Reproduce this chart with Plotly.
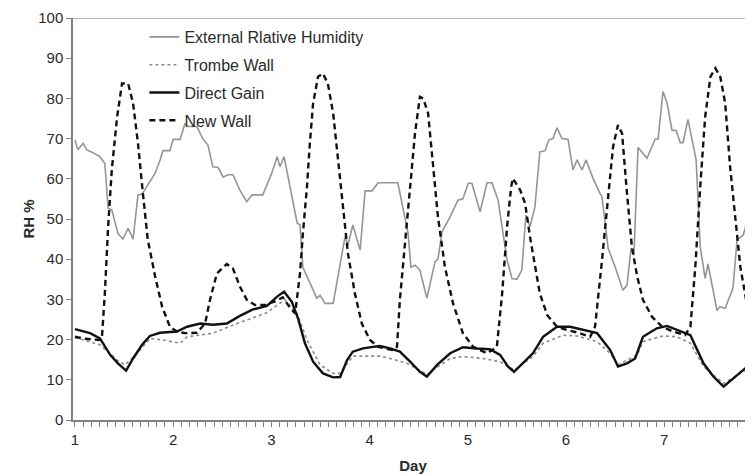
import plotly.graph_objects as go

# ---- data (hours from start of day 1, values in RH %) ----
ext_h = [0, 0.7, 2.0, 2.9, 4.4, 6.1, 7.3, 8.1, 9.0, 10.5, 11.7, 13.0, 14.2, 15.4, 16.4, 17.8, 19.6,
         20.8, 21.5, 23.2, 24.0, 25.7, 26.9, 27.6, 29.8, 31.3, 32.5, 33.7, 35.0, 36.2, 37.4, 38.6,
         40.3, 42.0, 43.3, 45.9, 48.1, 49.4, 50.1, 51.1, 54.3, 55.0, 55.7, 59.1, 59.9, 61.1, 63.1,
         66.0, 66.7, 67.9, 69.7, 70.9, 72.6, 74.1, 78.9, 81.4, 82.1, 83.1, 84.3, 86.0, 88.0, 88.7,
         89.7, 91.7, 93.6, 94.8, 96.1, 97.0, 99.0, 100.7, 101.9, 103.4, 105.6, 106.8, 108.0, 109.2,
         110.2, 111.2, 112.4, 113.6, 114.9, 115.8, 116.8, 117.8, 119.0, 120.5, 121.7, 122.7, 123.9,
         124.9, 126.6, 128.3, 128.8, 130.3, 132.0, 133.9, 134.9, 135.9, 136.6, 137.6, 139.8, 141.8,
         142.5, 143.7, 144.7, 145.9, 146.9, 147.9, 148.6, 149.8, 151.8, 152.8, 154.0, 154.7, 156.9,
         157.6, 158.9, 160.8, 161.8, 163.3, 164.5, 165.7]
ext_v = [69.7, 67.2, 68.8, 67.2, 66.5, 65.5, 63.8, 52.7, 52.3, 46.4, 45.0, 47.7, 45.0, 56.0, 56.2, 58.5, 61.4,
         64.7, 67.0, 67.0, 69.8, 69.8, 73.8, 73.0, 73.0, 69.8, 68.4, 63.0, 62.8, 60.4, 61.0, 61.0,
         57.2, 54.3, 56.0, 56.0, 61.4, 65.5, 63.0, 65.5, 49.0, 48.5, 38.0, 30.3, 31.0, 29.0, 29.0,
         45.6, 43.5, 48.5, 42.3, 57.0, 57.0, 59.0, 59.0, 46.5, 38.0, 38.5, 37.3, 30.3, 39.4, 40.0,
         46.8, 50.6, 54.7, 55.0, 58.9, 58.9, 51.8, 59.0, 59.0, 54.7, 39.8, 35.2, 35.0, 37.3,
         51.0, 48.1, 53.0, 66.7, 67.0, 69.7, 70.0, 72.7, 70.0, 69.8, 62.2, 64.7, 62.2,
         64.7, 60.1, 56.4, 55.5, 42.7, 38.1, 32.3, 33.5, 42.7, 41.0, 67.8, 65.1, 69.9,
         69.9, 81.7, 78.8, 72.1, 72.0, 69.0, 69.0, 74.8, 64.7, 43.1, 35.2, 38.8, 27.2,
         28.2, 27.8, 32.8, 44.8, 46.0, 50.6, 54.7]

trombe_h = [0, 6.1, 10.3, 12.2, 14.7, 18.3, 21.5, 25.7, 27.4, 33.7, 38.6, 43.5, 46.9, 51.3, 54.3, 56.7,
            59.9, 63.1, 64.8, 67.9, 71.4, 74.5, 77.0, 81.1, 86.0, 91.7, 94.8, 99.7, 103.9, 107.3,
            111.9, 114.4, 119.3, 122.7, 127.6, 130.8, 132.7, 137.4, 138.8, 143.7, 147.1, 150.4,
            153.6, 158.5, 163.3, 165.7]
trombe_v = [20.5, 18.7, 14.9, 13.7, 16.0, 20.3, 19.9, 19.1, 20.7, 21.6, 23.6, 25.5, 26.7, 29.9, 26.5, 19.9,
            13.7, 11.6, 11.6, 15.9, 15.9, 15.9, 15.3, 14.1, 11.4, 15.3, 15.8, 15.3, 14.5, 12.4,
            15.8, 19.1, 21.1, 20.9, 19.5, 16.6, 13.7, 16.2, 19.5, 20.9, 20.7, 19.1,
            13.3, 9.1, 12.0, 13.7]

direct_h = [0, 3.7, 6.1, 8.6, 10.5, 12.5, 14.2, 16.4, 18.3, 20.8, 24.9, 27.4, 30.6, 33.7, 37.1, 40.3,
            43.5, 46.9, 49.4, 51.1, 53.0, 54.5, 56.2, 58.2, 60.6, 63.1, 64.8, 66.5, 67.9, 70.4,
            72.8, 74.5, 77.0, 79.4, 81.9, 84.3, 86.0, 88.5, 91.7, 94.8, 98.2, 101.4, 103.9, 105.8,
            107.3, 109.5, 111.9, 114.4, 117.8, 121.0, 124.2, 127.6, 130.8, 132.7, 134.9, 136.9,
            138.8, 142.2, 144.7, 147.1, 150.4, 153.6, 156.0, 158.5, 160.9, 163.3, 165.7]
direct_v = [22.6, 21.6, 20.3, 16.2, 14.1, 12.3, 15.3, 18.7, 20.9, 21.7, 22.0, 23.2, 24.0, 23.7, 24.0, 25.9,
            27.5, 28.4, 30.7, 31.9, 29.4, 25.3, 19.1, 14.5, 11.6, 10.6, 10.7, 14.9, 17.0, 17.8,
            18.2, 18.4, 17.8, 17.0, 14.5, 12.0, 10.8, 13.7, 16.6, 18.1, 17.8, 17.6, 16.2, 13.3,
            12.0, 14.1, 16.6, 20.7, 23.2, 23.2, 22.4, 21.6, 17.4, 13.3, 14.1, 15.3,
            20.7, 22.8, 23.4, 22.4, 21.1, 14.1, 10.8, 8.3, 10.4, 12.4, 14.5]

newwall_h = [0, 2.4, 6.1, 6.6, 7.3, 8.1, 9.0, 10.3, 11.5, 13.0, 14.2, 15.4, 16.6, 17.8, 19.6, 21.3, 23.2,
             24.9, 26.9, 29.8, 31.8, 33.0, 34.7, 37.1, 38.6, 40.3, 42.0, 44.0, 46.4, 48.9, 50.8, 52.5,
             53.8, 55.0, 55.7, 56.7, 57.4, 58.2, 59.4, 60.6, 61.8, 63.1, 64.3, 65.5, 66.7, 68.4, 70.1,
             72.1, 74.1, 77.5, 78.7, 79.4, 80.7, 81.9, 83.1, 84.3, 85.1, 86.3, 87.5, 88.7, 90.4, 92.4,
             94.8, 97.3, 100.7, 103.1, 104.4, 105.6, 106.6, 107.0, 108.8, 110.0, 111.2, 112.4, 113.6,
             115.4, 117.8, 120.2, 123.4, 125.9, 127.1, 128.8, 130.3, 131.5, 132.7, 133.7, 134.9, 136.1,
             137.4, 138.8, 141.0, 143.5, 146.2, 149.1, 150.4, 151.6, 152.8, 154.0, 155.3, 156.5, 157.7,
             158.9, 160.1, 161.4, 162.6, 164.3, 165.5, 165.7]
newwall_v = [20.7, 20.2, 19.9, 20.7, 31.5, 48.0, 62.2, 75.4, 83.7, 83.7, 78.8, 68.8, 56.4, 44.8, 35.7, 28.2, 23.2,
             22.0, 21.6, 21.7, 24.0, 29.9, 36.5, 38.8, 37.7, 33.2, 29.9, 28.6, 28.6, 29.5, 30.5, 28.0,
             26.5, 36.5, 46.4, 58.0, 68.8, 78.8, 85.4, 86.2, 83.7, 76.3, 64.7, 53.0, 41.5, 31.5, 24.0,
             19.9, 18.2, 17.4, 18.2, 29.9, 44.8, 58.9, 71.3, 80.4, 80.0, 76.3, 63.8, 50.6, 38.1, 29.0,
             21.6, 18.2, 16.6, 18.2, 31.5, 48.1, 58.0, 60.1, 57.2, 53.9, 45.6, 38.1, 31.5,
             26.1, 23.2, 22.4, 21.6, 20.7, 23.2, 39.8, 56.4, 68.0, 73.4, 71.3, 56.4, 43.1,
             35.7, 29.9, 25.7, 23.2, 22.0, 21.1, 23.2, 38.1, 58.0, 75.4, 85.4, 87.5, 85.4,
             78.8, 63.0, 49.8, 38.1, 28.2, 22.4, 21.5]

day_ticks = [1, 2, 3, 4, 5, 6, 7]
y_ticks = [0, 10, 20, 30, 40, 50, 60, 70, 80, 90, 100]


def to_day(hours):
    return [1 + h / 24 for h in hours]


fig = go.Figure()
fig.add_trace(go.Scatter(x=to_day(ext_h), y=ext_v, mode="lines", name="External Rlative Humidity",
                         line=dict(color="#959595", width=1.6), legendgroup="a"))
fig.add_trace(go.Scatter(x=to_day(trombe_h), y=trombe_v, mode="lines", name="Trombe Wall",
                         line=dict(color="#8a8a8a", width=1.6, dash="dot"), legendgroup="b"))
fig.add_trace(go.Scatter(x=to_day(direct_h), y=direct_v, mode="lines", name="Direct Gain",
                         line=dict(color="#111111", width=2.4), legendgroup="c"))
fig.add_trace(go.Scatter(x=to_day(newwall_h), y=newwall_v, mode="lines", name="New Wall",
                         line=dict(color="#111111", width=2.4, dash="6px,4px"), legendgroup="d"))

# top border at 100
fig.add_shape(type="line", xref="paper", x0=0, x1=1, yref="y", y0=100, y1=100,
              line=dict(color="#a0a0a0", width=1.5))

txt = "#2a2a2a"
fig.update_layout(
    width=745, height=468,
    margin=dict(l=65, r=0, t=10, b=56),
    paper_bgcolor="white", plot_bgcolor="white",
    font=dict(family="Liberation Sans, Arial, sans-serif", size=15, color=txt),
    showlegend=True,
    legend=dict(x=0.105, y=0.995, xanchor="left", yanchor="top", bgcolor="rgba(0,0,0,0)",
                tracegroupgap=4, font=dict(size=16, color=txt), itemwidth=30),
    xaxis=dict(range=[0.98, 7.904], tickvals=day_ticks, ticktext=[str(d) for d in day_ticks],
               showgrid=False, zeroline=False, showline=True, linecolor="#808080", linewidth=1.5,
               ticks="outside", ticklen=5, tickcolor="#808080",
               minor=dict(dtick=1 / 12, ticks="outside", ticklen=5, tickcolor="#808080", showgrid=False),
               title=dict(text="<b>Day</b>", font=dict(size=15, color=txt), standoff=14),
               tickfont=dict(size=15)),
    yaxis=dict(range=[0, 100], tickvals=y_ticks, showgrid=False, zeroline=False,
               showline=True, linecolor="#808080", linewidth=1.5,
               ticks="outside", ticklen=5, tickcolor="#808080",
               title=dict(text="<b>RH %</b>", font=dict(size=15, color=txt), standoff=0),
               tickfont=dict(size=15)),
)

fig.write_html("out.html")
